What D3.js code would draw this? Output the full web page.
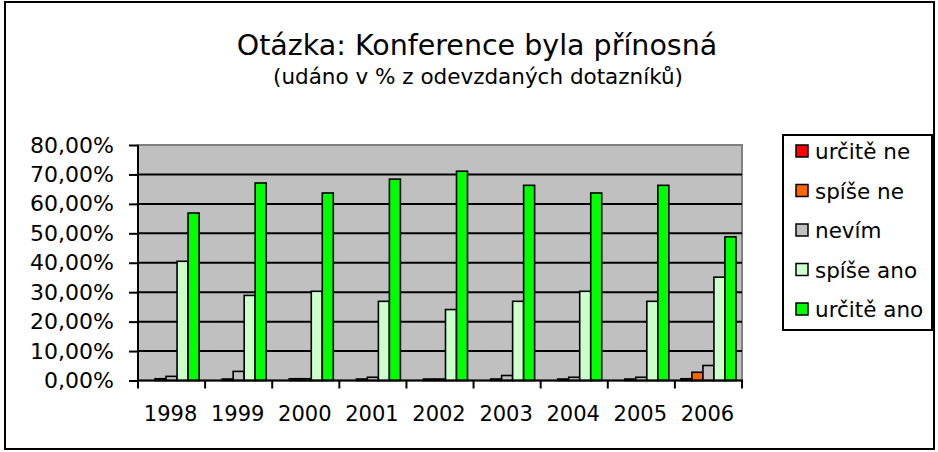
<!DOCTYPE html>
<html>
<head>
<meta charset="utf-8">
<script src="https://cdn.jsdelivr.net/npm/d3@7"></script>
<style>
  body { margin: 0; background: #fff; }
  text { font-family: "DejaVu Sans", Verdana, sans-serif; fill: #000; }
</style>
</head>
<body>
<div class="canvas"></div>
<script>
// data (percent)
const years = ['1998', '1999', '2000', '2001', '2002', '2003', '2004', '2005', '2006'];
const seriesNames = ['určitě ne', 'spíše ne', 'nevím', 'spíše ano', 'určitě ano'];
const urciteNe  = [0, 0, 0, 0, 0, 0, 0, 0, 0.6];
const spiseNe   = [0.6, 0.5, 0.6, 0.5, 0.5, 0.5, 0.5, 0.5, 2.8];
const nevim     = [1.4, 3.1, 0.6, 1.1, 0.5, 1.7, 1.1, 1.1, 5.1];
const spiseAno  = [40.5, 28.9, 30.3, 26.9, 24.1, 26.9, 30.3, 26.9, 35.1];
const urciteAno = [56.9, 67.1, 63.7, 68.4, 71.1, 66.3, 63.7, 66.3, 48.8];
const yTicks = [0, 10, 20, 30, 40, 50, 60, 70, 80];

const seriesValues = [urciteNe, spiseNe, nevim, spiseAno, urciteAno];
const colours = ['#ff0000', '#ff6600', '#c0c0c0', '#ccffcc', '#00ff00'];

const dims = { width: 938, height: 452 };
const plot = { left: 138, right: 742, top: 145, bottom: 380.5 };

const svg = d3.select('.canvas')
    .append('svg')
    .attr('width', dims.width)
    .attr('height', dims.height);

// outer chart frame
svg.append('rect')
    .attr('x', 5).attr('y', 2)
    .attr('width', 929).attr('height', 447)
    .attr('fill', '#fff')
    .attr('stroke', '#000')
    .attr('stroke-width', 2);

// titles
svg.append('text')
    .attr('x', 477).attr('y', 55)
    .attr('text-anchor', 'middle')
    .attr('font-size', 28.5)
    .text('Otázka: Konference byla přínosná');

svg.append('text')
    .attr('x', 478).attr('y', 84)
    .attr('text-anchor', 'middle')
    .attr('font-size', 21.5)
    .text('(udáno v % z odevzdaných dotazníků)');

const x0 = d3.scaleBand()
    .domain(years)
    .range([plot.left, plot.right]);

const x1 = d3.scaleBand()
    .domain(seriesNames)
    .range([0, x0.bandwidth()])
    .paddingInner(0)
    .paddingOuter(0.55);

const y = d3.scaleLinear()
    .domain([0, 80])
    .range([plot.bottom, plot.top]);

// plot area
svg.append('rect')
    .attr('x', plot.left).attr('y', plot.top)
    .attr('width', plot.right - plot.left)
    .attr('height', plot.bottom - plot.top)
    .attr('fill', '#c0c0c0')
    .attr('stroke', '#808080')
    .attr('stroke-width', 2);

// gridlines
svg.append('g')
    .selectAll('line')
    .data(yTicks.filter(t => t > 0 && t < 80))
    .enter().append('line')
    .attr('x1', plot.left).attr('x2', plot.right)
    .attr('y1', d => y(d)).attr('y2', d => y(d))
    .attr('stroke', '#000')
    .attr('stroke-width', 2);

// bars
const groups = svg.append('g')
    .selectAll('g')
    .data(years)
    .enter().append('g')
    .attr('transform', d => `translate(${x0(d)},0)`);

groups.selectAll('rect')
    .data((yr, i) => seriesNames.map((name, s) => ({ name, s, value: seriesValues[s][i] })))
    .enter().append('rect')
    .attr('x', d => x1(d.name))
    .attr('width', x1.bandwidth())
    .attr('y', d => y(d.value))
    .attr('height', d => y(0) - y(d.value))
    .attr('fill', d => colours[d.s])
    .attr('stroke', '#000')
    .attr('stroke-width', 1.6);

// y axis
const yAxis = d3.axisLeft(y)
    .tickValues(yTicks)
    .tickSize(9)
    .tickPadding(15)
    .tickFormat(d => d3.format('.2f')(d).replace('.', ',') + '%');

const yg = svg.append('g')
    .attr('transform', `translate(${plot.left},0)`)
    .call(yAxis);
yg.select('.domain').attr('stroke', '#000').attr('stroke-width', 2)
    .attr('d', `M0,${plot.top}V${plot.bottom}`);
yg.selectAll('.tick line').attr('stroke', '#000').attr('stroke-width', 2);
yg.selectAll('text')
    .attr('font-size', 22)
    .style('font-family', '"DejaVu Sans", Verdana, sans-serif')
    .attr('fill', '#000');

// x axis, ticks at category boundaries
const xg = svg.append('g')
    .attr('transform', `translate(0,${plot.bottom})`);
xg.append('line')
    .attr('x1', plot.left - 1).attr('x2', plot.right + 1)
    .attr('stroke', '#000').attr('stroke-width', 2);
xg.selectAll('.tk')
    .data(years.concat(['end']))
    .enter().append('line')
    .attr('class', 'tk')
    .attr('x1', (d, i) => i < years.length ? x0(d) : x0.range()[1])
    .attr('x2', (d, i) => i < years.length ? x0(d) : x0.range()[1])
    .attr('y1', 0).attr('y2', 8)
    .attr('stroke', '#000').attr('stroke-width', 2);
xg.selectAll('.lbl')
    .data(years)
    .enter().append('text')
    .attr('class', 'lbl')
    .attr('x', d => x0(d) + x0.bandwidth() / 2 - 1)
    .attr('y', 40)
    .attr('text-anchor', 'middle')
    .attr('font-size', 21)
    .text(d => d);

// legend
const legendGroup = svg.append('g');
legendGroup.append('rect')
    .attr('x', 783).attr('y', 135)
    .attr('width', 149).attr('height', 195)
    .attr('fill', '#fff')
    .attr('stroke', '#000')
    .attr('stroke-width', 2);

const items = legendGroup.selectAll('g.item')
    .data(seriesNames)
    .enter().append('g')
    .attr('class', 'item')
    .attr('transform', (d, i) => `translate(796,${151 + i * 39.5})`);

items.append('rect')
    .attr('x', 0).attr('y', -6)
    .attr('width', 12).attr('height', 12)
    .attr('fill', (d, i) => colours[i])
    .attr('stroke', '#000')
    .attr('stroke-width', 1.5);

items.append('text')
    .attr('x', 19).attr('y', 8)
    .attr('font-size', 21.5)
    .text(d => d);
</script>
</body>
</html>
